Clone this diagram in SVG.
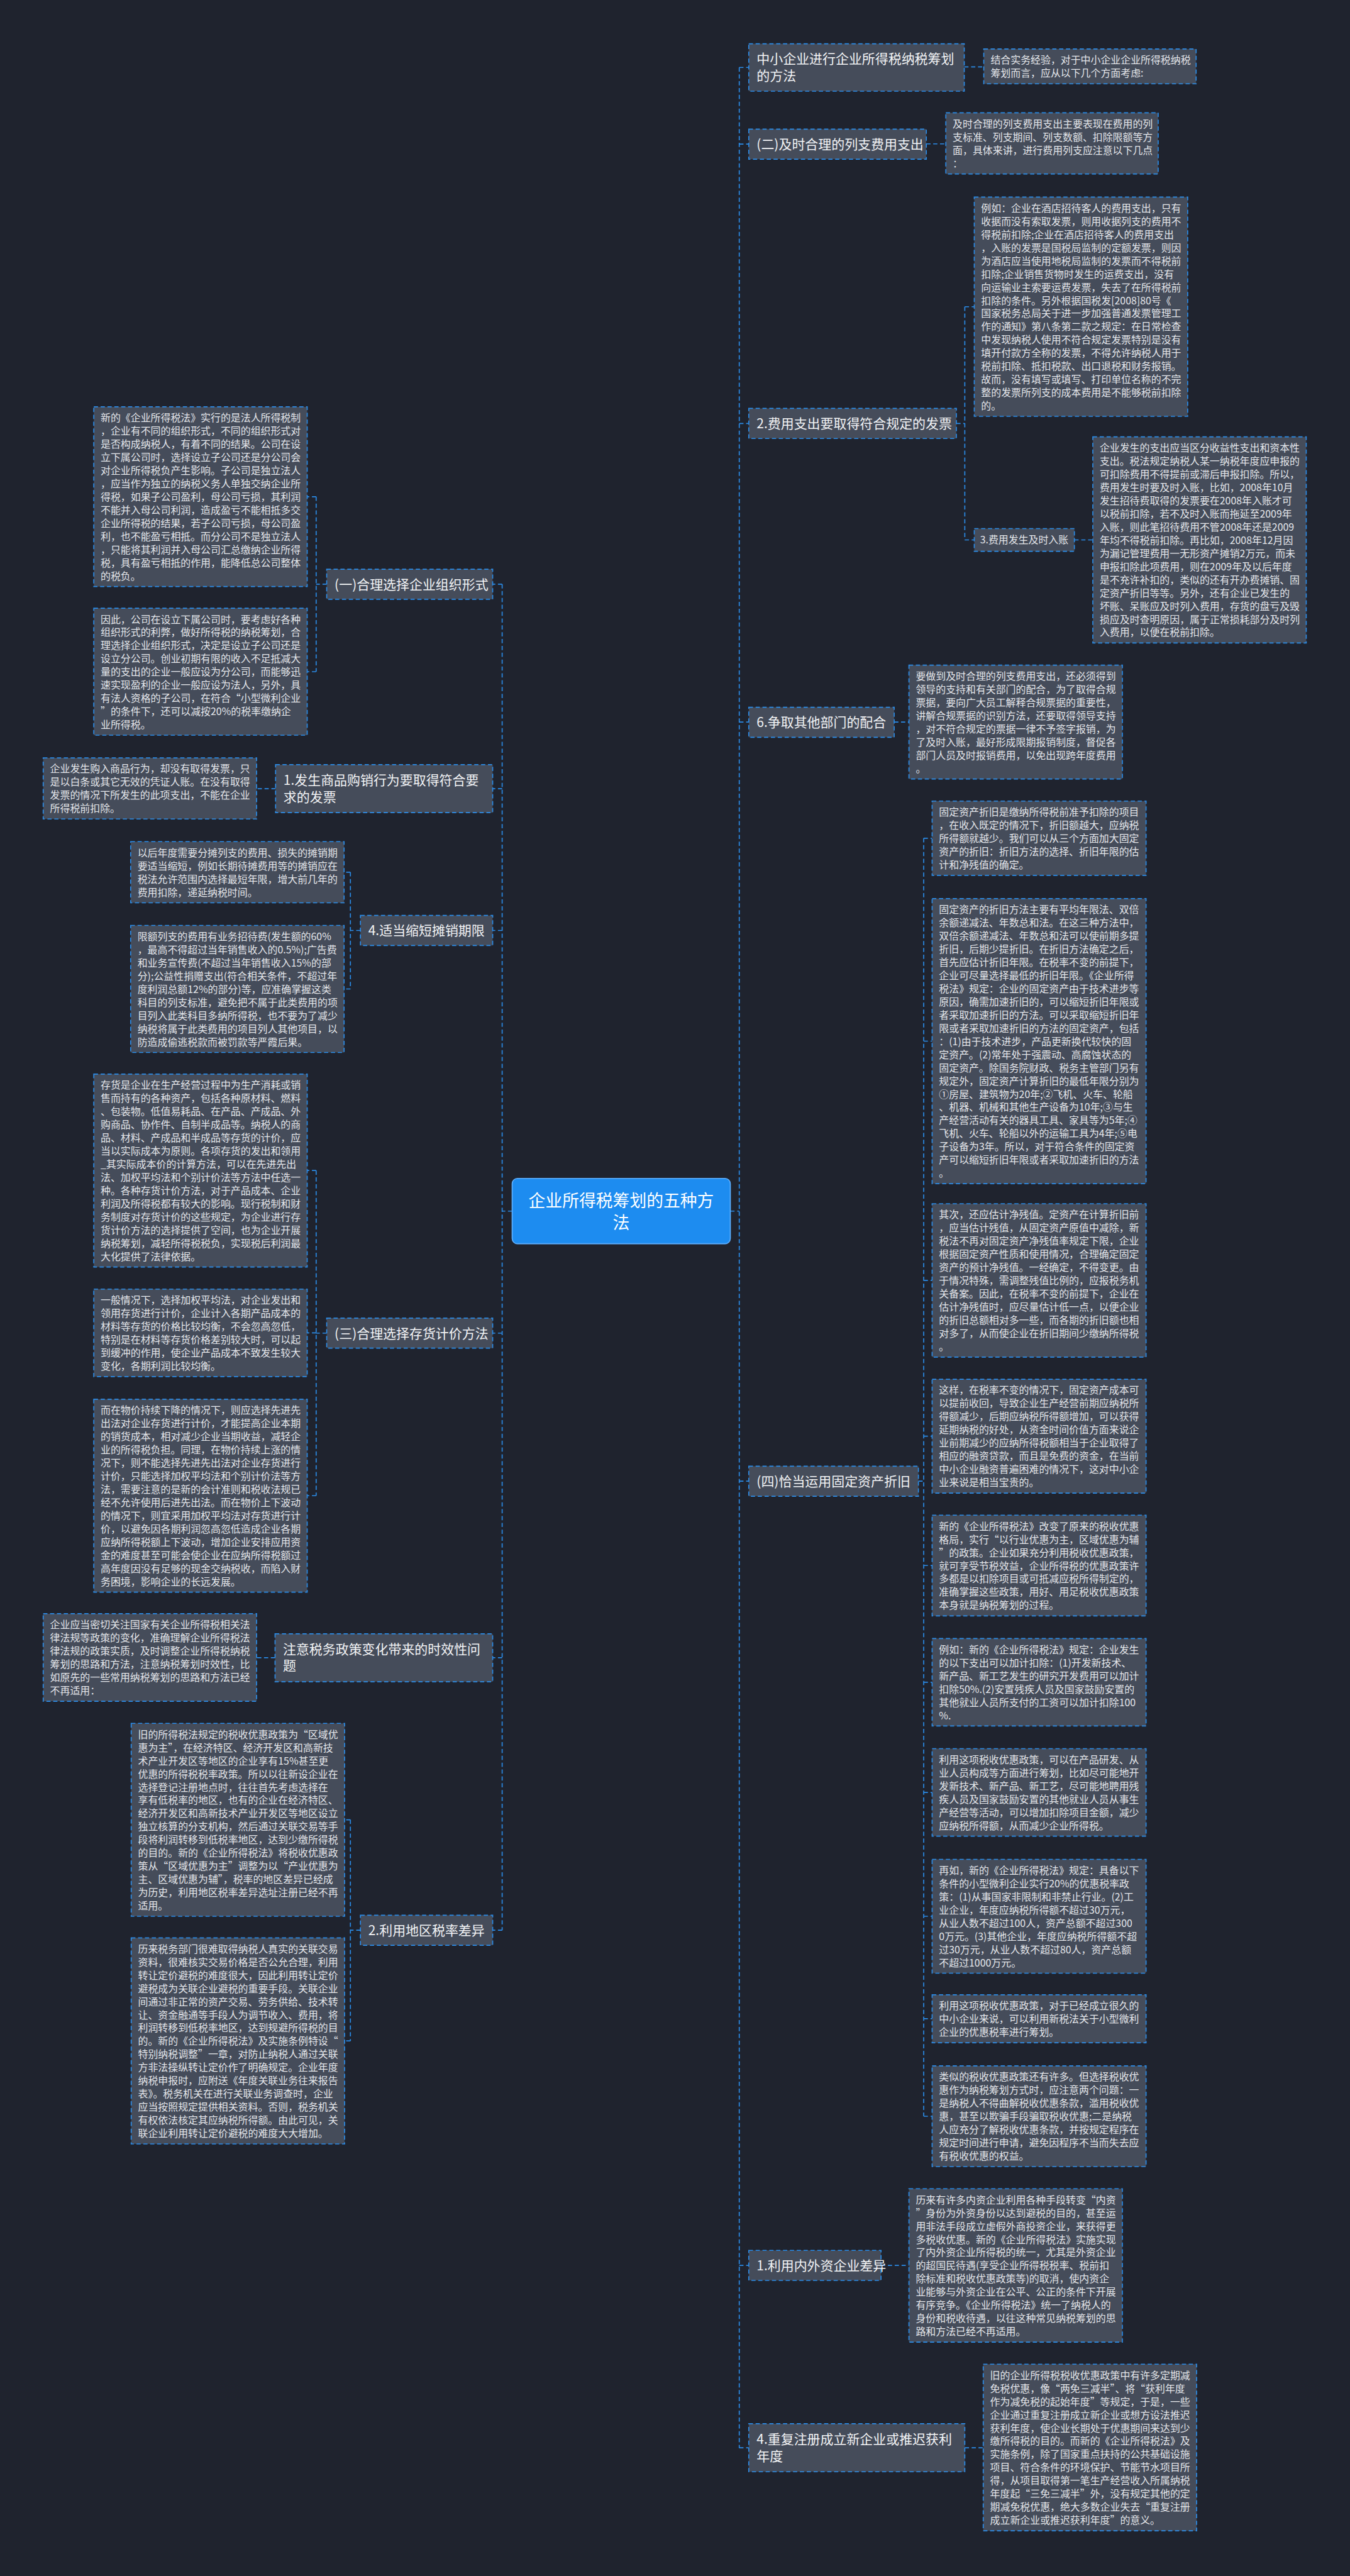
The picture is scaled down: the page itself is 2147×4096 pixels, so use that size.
<svg xmlns="http://www.w3.org/2000/svg" width="2147" height="4096" viewBox="0 0 2147 4096">
<style>
.nb{fill:#454c5a;stroke:#2b8be6;stroke-width:2;stroke-dasharray:8 5}
.t{font-family:"Noto Sans CJK SC","Noto Sans",sans-serif;font-size:19px;fill:#e4e6ea}
.l{font-family:"Noto Sans CJK SC","Noto Sans",sans-serif;font-size:25px;fill:#f2f3f5}
.c{fill:none;stroke:#2b8be6;stroke-width:2;stroke-dasharray:8 5}
.rt{font-family:"Noto Sans CJK SC","Noto Sans",sans-serif;font-size:32px;fill:#ffffff}
</style>
<rect width="2147" height="4096" fill="#1f232e"/>
<g transform="scale(0.838)">
<g id="connectors">
<path class="c" d="M1386 2298H1403M1403 128V4645M1403 128H1421M1403 273.5H1421M1403 803.5H1421M1403 1370H1421M1403 2810.5H1421M1403 4298.5H1421M1403 4644.5H1421"/>
<path class="c" d="M1830 127H1867M1758 273H1795M1815 803.5H1831M1831 582V1024.5M1831 582H1849M1831 1024.5H1849M2039 1024.5H2074M1697 1370H1725"/>
<path class="c" d="M1743 2810.5H1753M1753 1590.5V4015.5M1753 1590.5H1769M1753 1975.5H1769M1753 2429.5H1769M1753 2725H1769M1753 2970.5H1769M1753 3192H1769M1753 3401H1769M1753 3636H1769M1753 3830.5H1769M1753 4015.5H1769"/>
<path class="c" d="M1672 4298.5H1725M1831 4644.5H1866"/>
<path class="c" d="M972 2298H953M953 1108.5V3662.5M953 1108.5H935M953 1496.5H935M953 1765.5H935M953 2529.5H935M953 3145.5H935M953 3662.5H935"/>
<path class="c" d="M620 1108.5H600M600 942.5V1274.5M600 942.5H583M600 1274.5H583M523 1496.5H487M684 1765.5H665M665 1655V1876.5M665 1655H653M665 1876.5H653"/>
<path class="c" d="M620 2529.5H600M600 2221V2838M600 2221H583M600 2529H583M600 2838H583M522 3145.5H487M684 3662.5H665M665 3453V3872.5M665 3453H654M665 3872.5H654"/>
</g>

<g id="root">
<rect x="972" y="2236" width="414" height="124" rx="10" fill="#1d8cf0" stroke="#5fb0ff" stroke-width="2"/>
<text class="rt" text-anchor="middle"><tspan x="1179" y="2290">企业所得税筹划的五种方</tspan><tspan x="1179" dy="42">法</tspan></text>
</g>

<g id="r1">
<rect class="nb" x="1421" y="83" width="409" height="90"/>
<text class="l"><tspan x="1436" y="121">中小企业进行企业所得税纳税筹划</tspan><tspan x="1436" dy="32">的方法</tspan></text>
</g>
<g id="r1a">
<rect class="nb" x="1867" y="93" width="403" height="66"/>
<text class="t"><tspan x="1880" y="121">结合实务经验，对于中小企业企业所得税纳税</tspan><tspan x="1880" dy="25">筹划而言，应从以下几个方面考虑:</tspan></text>
</g>

<g id="r2">
<rect class="nb" x="1421" y="245" width="337" height="57"/>
<text class="l" x="1436" y="283">(二)及时合理的列支费用支出</text>
</g>
<g id="r2a">
<rect class="nb" x="1795" y="214" width="403" height="116"/>
<text class="t"><tspan x="1808" y="242">及时合理的列支费用支出主要表现在费用的列</tspan><tspan x="1808" dy="25">支标准、列支期间、列支数额、扣除限额等方</tspan><tspan x="1808" dy="25">面，具体来讲，进行费用列支应注意以下几点</tspan><tspan x="1808" dy="25">：</tspan></text>
</g>

<g id="r3">
<rect class="nb" x="1421" y="775" width="394" height="57"/>
<text class="l" x="1436" y="813">2.费用支出要取得符合规定的发票</text>
</g>
<g id="r3a">
<rect class="nb" x="1849" y="374" width="405" height="416"/>
<text class="t"><tspan x="1862" y="402">例如：企业在酒店招待客人的费用支出，只有</tspan><tspan x="1862" dy="25">收据而没有索取发票，则用收据列支的费用不</tspan><tspan x="1862" dy="25">得税前扣除;企业在酒店招待客人的费用支出</tspan><tspan x="1862" dy="25">，入账的发票是国税局监制的定额发票，则因</tspan><tspan x="1862" dy="25">为酒店应当使用地税局监制的发票而不得税前</tspan><tspan x="1862" dy="25">扣除;企业销售货物时发生的运费支出，没有</tspan><tspan x="1862" dy="25">向运输业主索要运费发票，失去了在所得税前</tspan><tspan x="1862" dy="25">扣除的条件。另外根据国税发[2008]80号《</tspan><tspan x="1862" dy="25">国家税务总局关于进一步加强普通发票管理工</tspan><tspan x="1862" dy="25">作的通知》第八条第二款之规定：在日常检查</tspan><tspan x="1862" dy="25">中发现纳税人使用不符合规定发票特别是没有</tspan><tspan x="1862" dy="25">填开付款方全称的发票，不得允许纳税人用于</tspan><tspan x="1862" dy="25">税前扣除、抵扣税款、出口退税和财务报销。</tspan><tspan x="1862" dy="25">故而，没有填写或填写、打印单位名称的不完</tspan><tspan x="1862" dy="25">整的发票所列支的成本费用是不能够税前扣除</tspan><tspan x="1862" dy="25">的。</tspan></text>
</g>
<g id="r3b">
<rect class="nb" x="1849" y="1003" width="190" height="43"/>
<text class="t" x="1860" y="1031">3.费用发生及时入账</text>
</g>
<g id="r3c">
<rect class="nb" x="2074" y="829" width="405" height="391"/>
<text class="t"><tspan x="2087" y="857">企业发生的支出应当区分收益性支出和资本性</tspan><tspan x="2087" dy="25">支出。税法规定纳税人某一纳税年度应申报的</tspan><tspan x="2087" dy="25">可扣除费用不得提前或滞后申报扣除。所以，</tspan><tspan x="2087" dy="25">费用发生时要及时入账，比如，2008年10月</tspan><tspan x="2087" dy="25">发生招待费取得的发票要在2008年入账才可</tspan><tspan x="2087" dy="25">以税前扣除，若不及时入账而拖延至2009年</tspan><tspan x="2087" dy="25">入账，则此笔招待费用不管2008年还是2009</tspan><tspan x="2087" dy="25">年均不得税前扣除。再比如，2008年12月因</tspan><tspan x="2087" dy="25">为漏记管理费用一无形资产摊销2万元，而未</tspan><tspan x="2087" dy="25">申报扣除此项费用，则在2009年及以后年度</tspan><tspan x="2087" dy="25">是不充许补扣的，类似的还有开办费摊销、固</tspan><tspan x="2087" dy="25">定资产折旧等等。另外，还有企业已发生的</tspan><tspan x="2087" dy="25">坏账、呆账应及时列入费用，存货的盘亏及毁</tspan><tspan x="2087" dy="25">损应及时查明原因，属于正常损耗部分及时列</tspan><tspan x="2087" dy="25">入费用，以便在税前扣除。</tspan></text>
</g>

<g id="r4">
<rect class="nb" x="1421" y="1342" width="276" height="57"/>
<text class="l" x="1436" y="1380">6.争取其他部门的配合</text>
</g>
<g id="r4a">
<rect class="nb" x="1725" y="1262" width="405" height="216"/>
<text class="t"><tspan x="1738" y="1290">要做到及时合理的列支费用支出，还必须得到</tspan><tspan x="1738" dy="25">领导的支持和有关部门的配合，为了取得合规</tspan><tspan x="1738" dy="25">票据，要向广大员工解释合规票据的重要性，</tspan><tspan x="1738" dy="25">讲解合规票据的识别方法，还要取得领导支持</tspan><tspan x="1738" dy="25">，对不符合规定的票据一律不予签字报销，为</tspan><tspan x="1738" dy="25">了及时入账，最好形成限期报销制度，督促各</tspan><tspan x="1738" dy="25">部门人员及时报销费用，以免出现跨年度费用</tspan><tspan x="1738" dy="25">。</tspan></text>
</g>

<g id="r5">
<rect class="nb" x="1421" y="2782" width="322" height="57"/>
<text class="l" x="1436" y="2820">(四)恰当运用固定资产折旧</text>
</g>
<g id="r5a">
<rect class="nb" x="1769" y="1520" width="406" height="141"/>
<text class="t"><tspan x="1782" y="1548">固定资产折旧是缴纳所得税前准予扣除的项目</tspan><tspan x="1782" dy="25">，在收入既定的情况下，折旧额越大，应纳税</tspan><tspan x="1782" dy="25">所得额就越少。我们可以从三个方面加大固定</tspan><tspan x="1782" dy="25">资产的折旧：折旧方法的选择、折旧年限的估</tspan><tspan x="1782" dy="25">计和净残值的确定。</tspan></text>
</g>
<g id="r5b">
<rect class="nb" x="1769" y="1705" width="406" height="541"/>
<text class="t"><tspan x="1782" y="1733">固定资产的折旧方法主要有平均年限法、双倍</tspan><tspan x="1782" dy="25">余额递减法、年数总和法。在这三种方法中，</tspan><tspan x="1782" dy="25">双倍余额递减法、年数总和法可以使前期多提</tspan><tspan x="1782" dy="25">折旧，后期少提折旧。在折旧方法确定之后，</tspan><tspan x="1782" dy="25">首先应估计折旧年限。在税率不变的前提下，</tspan><tspan x="1782" dy="25">企业可尽量选择最低的折旧年限。《企业所得</tspan><tspan x="1782" dy="25">税法》规定：企业的固定资产由于技术进步等</tspan><tspan x="1782" dy="25">原因，确需加速折旧的，可以缩短折旧年限或</tspan><tspan x="1782" dy="25">者采取加速折旧的方法。可以采取缩短折旧年</tspan><tspan x="1782" dy="25">限或者采取加速折旧的方法的固定资产，包括</tspan><tspan x="1782" dy="25">：(1)由于技术进步，产品更新换代较快的固</tspan><tspan x="1782" dy="25">定资产。(2)常年处于强震动、高腐蚀状态的</tspan><tspan x="1782" dy="25">固定资产。除国务院财政、税务主管部门另有</tspan><tspan x="1782" dy="25">规定外，固定资产计算折旧的最低年限分别为</tspan><tspan x="1782" dy="25">①房屋、建筑物为20年;②飞机、火车、轮船</tspan><tspan x="1782" dy="25">、机器、机械和其他生产设备为10年;③与生</tspan><tspan x="1782" dy="25">产经营活动有关的器具工具、家具等为5年;④</tspan><tspan x="1782" dy="25">飞机、火车、轮船以外的运输工具为4年;⑤电</tspan><tspan x="1782" dy="25">子设备为3年。所以，对于符合条件的固定资</tspan><tspan x="1782" dy="25">产可以缩短折旧年限或者采取加速折旧的方法</tspan><tspan x="1782" dy="25">。</tspan></text>
</g>
<g id="r5c">
<rect class="nb" x="1769" y="2284" width="406" height="291"/>
<text class="t"><tspan x="1782" y="2312">其次，还应估计净残值。定资产在计算折旧前</tspan><tspan x="1782" dy="25">，应当估计残值，从固定资产原值中减除，新</tspan><tspan x="1782" dy="25">税法不再对固定资产净残值率规定下限，企业</tspan><tspan x="1782" dy="25">根据固定资产性质和使用情况，合理确定固定</tspan><tspan x="1782" dy="25">资产的预计净残值。一经确定，不得变更。由</tspan><tspan x="1782" dy="25">于情况特殊，需调整残值比例的，应报税务机</tspan><tspan x="1782" dy="25">关备案。因此，在税率不变的前提下，企业在</tspan><tspan x="1782" dy="25">估计净残值时，应尽量估计低一点，以便企业</tspan><tspan x="1782" dy="25">的折旧总额相对多一些，而各期的折旧额也相</tspan><tspan x="1782" dy="25">对多了，从而使企业在折旧期间少缴纳所得税</tspan><tspan x="1782" dy="25">。</tspan></text>
</g>
<g id="r5d">
<rect class="nb" x="1769" y="2617" width="406" height="216"/>
<text class="t"><tspan x="1782" y="2645">这样，在税率不变的情况下，固定资产成本可</tspan><tspan x="1782" dy="25">以提前收回，导致企业生产经营前期应纳税所</tspan><tspan x="1782" dy="25">得额减少，后期应纳税所得额增加，可以获得</tspan><tspan x="1782" dy="25">延期纳税的好处，从资金时间价值方面来说企</tspan><tspan x="1782" dy="25">业前期减少的应纳所得税额相当于企业取得了</tspan><tspan x="1782" dy="25">相应的融资贷款，而且是免费的资金，在当前</tspan><tspan x="1782" dy="25">中小企业融资普遍困难的情况下，这对中小企</tspan><tspan x="1782" dy="25">业来说是相当宝贵的。</tspan></text>
</g>
<g id="r5e">
<rect class="nb" x="1769" y="2875" width="406" height="191"/>
<text class="t"><tspan x="1782" y="2903">新的《企业所得税法》改变了原来的税收优惠</tspan><tspan x="1782" dy="25">格局，实行“以行业优惠为主，区域优惠为辅</tspan><tspan x="1782" dy="25">”的政策。企业如果充分利用税收优惠政策，</tspan><tspan x="1782" dy="25">就可享受节税效益，企业所得税的优惠政策许</tspan><tspan x="1782" dy="25">多都是以扣除项目或可抵减应税所得制定的，</tspan><tspan x="1782" dy="25">准确掌握这些政策，用好、用足税收优惠政策</tspan><tspan x="1782" dy="25">本身就是纳税筹划的过程。</tspan></text>
</g>
<g id="r5f">
<rect class="nb" x="1769" y="3109" width="406" height="166"/>
<text class="t"><tspan x="1782" y="3137">例如：新的《企业所得税法》规定：企业发生</tspan><tspan x="1782" dy="25">的以下支出可以加计扣除：(1)开发新技术、</tspan><tspan x="1782" dy="25">新产品、新工艺发生的研究开发费用可以加计</tspan><tspan x="1782" dy="25">扣除50%.(2)安置残疾人员及国家鼓励安置的</tspan><tspan x="1782" dy="25">其他就业人员所支付的工资可以加计扣除100</tspan><tspan x="1782" dy="25">%.</tspan></text>
</g>
<g id="r5g">
<rect class="nb" x="1769" y="3318" width="406" height="166"/>
<text class="t"><tspan x="1782" y="3346">利用这项税收优惠政策，可以在产品研发、从</tspan><tspan x="1782" dy="25">业人员构成等方面进行筹划，比如尽可能地开</tspan><tspan x="1782" dy="25">发新技术、新产品、新工艺，尽可能地聘用残</tspan><tspan x="1782" dy="25">疾人员及国家鼓励安置的其他就业人员从事生</tspan><tspan x="1782" dy="25">产经营等活动，可以增加扣除项目金额，减少</tspan><tspan x="1782" dy="25">应纳税所得额，从而减少企业所得税。</tspan></text>
</g>
<g id="r5h">
<rect class="nb" x="1769" y="3528" width="406" height="216"/>
<text class="t"><tspan x="1782" y="3556">再如，新的《企业所得税法》规定：具备以下</tspan><tspan x="1782" dy="25">条件的小型微利企业实行20%的优惠税率政</tspan><tspan x="1782" dy="25">策：(1)从事国家非限制和非禁止行业。(2)工</tspan><tspan x="1782" dy="25">业企业，年度应纳税所得额不超过30万元，</tspan><tspan x="1782" dy="25">从业人数不超过100人，资产总额不超过300</tspan><tspan x="1782" dy="25">0万元。(3)其他企业，年度应纳税所得额不超</tspan><tspan x="1782" dy="25">过30万元，从业人数不超过80人，资产总额</tspan><tspan x="1782" dy="25">不超过1000万元。</tspan></text>
</g>
<g id="r5i">
<rect class="nb" x="1769" y="3785" width="406" height="91"/>
<text class="t"><tspan x="1782" y="3813">利用这项税收优惠政策，对于已经成立很久的</tspan><tspan x="1782" dy="25">中小企业来说，可以利用新税法关于小型微利</tspan><tspan x="1782" dy="25">企业的优惠税率进行筹划。</tspan></text>
</g>
<g id="r5j">
<rect class="nb" x="1769" y="3920" width="406" height="191"/>
<text class="t"><tspan x="1782" y="3948">类似的税收优惠政策还有许多。但选择税收优</tspan><tspan x="1782" dy="25">惠作为纳税筹划方式时，应注意两个问题：一</tspan><tspan x="1782" dy="25">是纳税人不得曲解税收优惠条款，滥用税收优</tspan><tspan x="1782" dy="25">惠，甚至以欺骗手段骗取税收优惠;二是纳税</tspan><tspan x="1782" dy="25">人应充分了解税收优惠条款，并按规定程序在</tspan><tspan x="1782" dy="25">规定时间进行申请，避免因程序不当而失去应</tspan><tspan x="1782" dy="25">有税收优惠的权益。</tspan></text>
</g>

<g id="r6">
<rect class="nb" x="1421" y="4270" width="251" height="57"/>
<text class="l" x="1436" y="4308">1.利用内外资企业差异</text>
</g>
<g id="r6a">
<rect class="nb" x="1725" y="4153" width="405" height="291"/>
<text class="t"><tspan x="1738" y="4181">历来有许多内资企业利用各种手段转变“内资</tspan><tspan x="1738" dy="25">”身份为外资身份以达到避税的目的，甚至运</tspan><tspan x="1738" dy="25">用非法手段成立虚假外商投资企业，来获得更</tspan><tspan x="1738" dy="25">多税收优惠。新的《企业所得税法》实施实现</tspan><tspan x="1738" dy="25">了内外资企业所得税的统一，尤其是外资企业</tspan><tspan x="1738" dy="25">的超国民待遇(享受企业所得税税率、税前扣</tspan><tspan x="1738" dy="25">除标准和税收优惠政策等)的取消，使内资企</tspan><tspan x="1738" dy="25">业能够与外资企业在公平、公正的条件下开展</tspan><tspan x="1738" dy="25">有序竞争。《企业所得税法》统一了纳税人的</tspan><tspan x="1738" dy="25">身份和税收待遇，以往这种常见纳税筹划的思</tspan><tspan x="1738" dy="25">路和方法已经不再适用。</tspan></text>
</g>

<g id="r7">
<rect class="nb" x="1421" y="4599" width="410" height="91"/>
<text class="l"><tspan x="1436" y="4637">4.重复注册成立新企业或推迟获利</tspan><tspan x="1436" dy="32">年度</tspan></text>
</g>
<g id="r7a">
<rect class="nb" x="1866" y="4486" width="405" height="316"/>
<text class="t"><tspan x="1879" y="4514">旧的企业所得税税收优惠政策中有许多定期减</tspan><tspan x="1879" dy="25">免税优惠，像“两免三减半”、将“获利年度</tspan><tspan x="1879" dy="25">作为减免税的起始年度”等规定，于是，一些</tspan><tspan x="1879" dy="25">企业通过重复注册成立新企业或想方设法推迟</tspan><tspan x="1879" dy="25">获利年度，使企业长期处于优惠期间来达到少</tspan><tspan x="1879" dy="25">缴所得税的目的。而新的《企业所得税法》及</tspan><tspan x="1879" dy="25">实施条例，除了国家重点扶持的公共基础设施</tspan><tspan x="1879" dy="25">项目、符合条件的环境保护、节能节水项目所</tspan><tspan x="1879" dy="25">得，从项目取得第一笔生产经营收入所属纳税</tspan><tspan x="1879" dy="25">年度起“三免三减半”外，没有规定其他的定</tspan><tspan x="1879" dy="25">期减免税优惠，绝大多数企业失去“重复注册</tspan><tspan x="1879" dy="25">成立新企业或推迟获利年度”的意义。</tspan></text>
</g>

<g id="l1">
<rect class="nb" x="620" y="1080" width="315" height="57"/>
<text class="l" x="635" y="1118">(一)合理选择企业组织形式</text>
</g>
<g id="l1a">
<rect class="nb" x="178" y="772" width="405" height="341"/>
<text class="t"><tspan x="191" y="800">新的《企业所得税法》实行的是法人所得税制</tspan><tspan x="191" dy="25">，企业有不同的组织形式，不同的组织形式对</tspan><tspan x="191" dy="25">是否构成纳税人，有着不同的结果。公司在设</tspan><tspan x="191" dy="25">立下属公司时，选择设立子公司还是分公司会</tspan><tspan x="191" dy="25">对企业所得税负产生影响。子公司是独立法人</tspan><tspan x="191" dy="25">，应当作为独立的纳税义务人单独交纳企业所</tspan><tspan x="191" dy="25">得税，如果子公司盈利，母公司亏损，其利润</tspan><tspan x="191" dy="25">不能并入母公司利润，造成盈亏不能相抵多交</tspan><tspan x="191" dy="25">企业所得税的结果，若子公司亏损，母公司盈</tspan><tspan x="191" dy="25">利，也不能盈亏相抵。而分公司不是独立法人</tspan><tspan x="191" dy="25">，只能将其利润并入母公司汇总缴纳企业所得</tspan><tspan x="191" dy="25">税，具有盈亏相抵的作用，能降低总公司整体</tspan><tspan x="191" dy="25">的税负。</tspan></text>
</g>
<g id="l1b">
<rect class="nb" x="178" y="1154" width="405" height="241"/>
<text class="t"><tspan x="191" y="1182">因此，公司在设立下属公司时，要考虑好各种</tspan><tspan x="191" dy="25">组织形式的利弊，做好所得税的纳税筹划，合</tspan><tspan x="191" dy="25">理选择企业组织形式，决定是设立子公司还是</tspan><tspan x="191" dy="25">设立分公司。创业初期有限的收入不足抵减大</tspan><tspan x="191" dy="25">量的支出的企业一般应设为分公司，而能够迅</tspan><tspan x="191" dy="25">速实现盈利的企业一般应设为法人，另外，具</tspan><tspan x="191" dy="25">有法人资格的子公司，在符合“小型微利企业</tspan><tspan x="191" dy="25">”的条件下，还可以减按20%的税率缴纳企</tspan><tspan x="191" dy="25">业所得税。</tspan></text>
</g>

<g id="l2">
<rect class="nb" x="523" y="1451" width="412" height="91"/>
<text class="l"><tspan x="538" y="1489">1.发生商品购销行为要取得符合要</tspan><tspan x="538" dy="32">求的发票</tspan></text>
</g>
<g id="l2a">
<rect class="nb" x="82" y="1438" width="405" height="116"/>
<text class="t"><tspan x="95" y="1466">企业发生购入商品行为，却没有取得发票，只</tspan><tspan x="95" dy="25">是以白条或其它无效的凭证人账。在没有取得</tspan><tspan x="95" dy="25">发票的情况下所发生的此项支出，不能在企业</tspan><tspan x="95" dy="25">所得税前扣除。</tspan></text>
</g>

<g id="l3">
<rect class="nb" x="684" y="1737" width="251" height="57"/>
<text class="l" x="699" y="1775">4.适当缩短摊销期限</text>
</g>
<g id="l3a">
<rect class="nb" x="248" y="1597" width="405" height="116"/>
<text class="t"><tspan x="261" y="1625">以后年度需要分摊列支的费用、损失的摊销期</tspan><tspan x="261" dy="25">要适当缩短，例如长期待摊费用等的摊销应在</tspan><tspan x="261" dy="25">税法允许范围内选择最短年限，增大前几年的</tspan><tspan x="261" dy="25">费用扣除，递延纳税时间。</tspan></text>
</g>
<g id="l3b">
<rect class="nb" x="248" y="1756" width="405" height="241"/>
<text class="t"><tspan x="261" y="1784">限额列支的费用有业务招待费(发生额的60%</tspan><tspan x="261" dy="25">，最高不得超过当年销售收入的0.5%);广告费</tspan><tspan x="261" dy="25">和业务宣传费(不超过当年销售收入15%的部</tspan><tspan x="261" dy="25">分);公益性捐赠支出(符合相关条件，不超过年</tspan><tspan x="261" dy="25">度利润总额12%的部分)等，应准确掌握这类</tspan><tspan x="261" dy="25">科目的列支标准，避免把不属于此类费用的项</tspan><tspan x="261" dy="25">目列入此类科目多纳所得税，也不要为了减少</tspan><tspan x="261" dy="25">纳税将属于此类费用的项目列人其他项目，以</tspan><tspan x="261" dy="25">防造成偷逃税款而被罚款等严霞后果。</tspan></text>
</g>

<g id="l4">
<rect class="nb" x="620" y="2501" width="315" height="57"/>
<text class="l" x="635" y="2539">(三)合理选择存货计价方法</text>
</g>
<g id="l4a">
<rect class="nb" x="178" y="2038" width="405" height="366"/>
<text class="t"><tspan x="191" y="2066">存货是企业在生产经营过程中为生产消耗或销</tspan><tspan x="191" dy="25">售而持有的各种资产，包括各种原材料、燃料</tspan><tspan x="191" dy="25">、包装物。低值易耗品、在产品、产成品、外</tspan><tspan x="191" dy="25">购商品、协作件、自制半成品等。纳税人的商</tspan><tspan x="191" dy="25">品、材料、产成品和半成品等存货的计价，应</tspan><tspan x="191" dy="25">当以实际成本为原则。各项存货的发出和领用</tspan><tspan x="191" dy="25">_其实际成本价的计算方法，可以在先进先出</tspan><tspan x="191" dy="25">法、加权平均法和个别计价法等方法中任选一</tspan><tspan x="191" dy="25">种。各种存货计价方法，对于产品成本、企业</tspan><tspan x="191" dy="25">利润及所得税都有较大的影响。现行税制和财</tspan><tspan x="191" dy="25">务制度对存货计价的这些规定，为企业进行存</tspan><tspan x="191" dy="25">货计价方法的选择提供了空间，也为企业开展</tspan><tspan x="191" dy="25">纳税筹划，减轻所得税税负，实现税后利润最</tspan><tspan x="191" dy="25">大化提供了法律依据。</tspan></text>
</g>
<g id="l4b">
<rect class="nb" x="178" y="2446" width="405" height="166"/>
<text class="t"><tspan x="191" y="2474">一般情况下，选择加权平均法，对企业发出和</tspan><tspan x="191" dy="25">领用存货进行计价，企业计入各期产品成本的</tspan><tspan x="191" dy="25">材料等存货的价格比较均衡，不会忽高忽低，</tspan><tspan x="191" dy="25">特别是在材料等存货价格差别较大时，可以起</tspan><tspan x="191" dy="25">到缓冲的作用，使企业产品成本不致发生较大</tspan><tspan x="191" dy="25">变化，各期利润比较均衡。</tspan></text>
</g>
<g id="l4c">
<rect class="nb" x="178" y="2655" width="405" height="366"/>
<text class="t"><tspan x="191" y="2683">而在物价持续下降的情况下，则应选择先进先</tspan><tspan x="191" dy="25">出法对企业存货进行计价，才能提高企业本期</tspan><tspan x="191" dy="25">的销货成本，相对减少企业当期收益，减轻企</tspan><tspan x="191" dy="25">业的所得税负担。同理，在物价持续上涨的情</tspan><tspan x="191" dy="25">况下，则不能选择先进先出法对企业存货进行</tspan><tspan x="191" dy="25">计价，只能选择加权平均法和个别计价法等方</tspan><tspan x="191" dy="25">法，需要注意的是新的会计准则和税收法规已</tspan><tspan x="191" dy="25">经不允许使用后进先出法。而在物价上下波动</tspan><tspan x="191" dy="25">的情况下，则宜采用加权平均法对存货进行计</tspan><tspan x="191" dy="25">价，以避免因各期利润忽高忽低造成企业各期</tspan><tspan x="191" dy="25">应纳所得税额上下波动，增加企业安排应用资</tspan><tspan x="191" dy="25">金的难度甚至可能会使企业在应纳所得税额过</tspan><tspan x="191" dy="25">高年度因没有足够的现金交纳税收，而陷入财</tspan><tspan x="191" dy="25">务困境，影响企业的长远发展。</tspan></text>
</g>

<g id="l5">
<rect class="nb" x="522" y="3100" width="413" height="91"/>
<text class="l"><tspan x="537" y="3138">注意税务政策变化带来的时效性问</tspan><tspan x="537" dy="32">题</tspan></text>
</g>
<g id="l5a">
<rect class="nb" x="82" y="3062" width="405" height="166"/>
<text class="t"><tspan x="95" y="3090">企业应当密切关注国家有关企业所得税相关法</tspan><tspan x="95" dy="25">律法规等政策的变化，准确理解企业所得税法</tspan><tspan x="95" dy="25">律法规的政策实质，及时调整企业所得税纳税</tspan><tspan x="95" dy="25">筹划的思路和方法，注意纳税筹划时效性，比</tspan><tspan x="95" dy="25">如原先的一些常用纳税筹划的思路和方法已经</tspan><tspan x="95" dy="25">不再适用：</tspan></text>
</g>

<g id="l6">
<rect class="nb" x="684" y="3634" width="251" height="57"/>
<text class="l" x="699" y="3672">2.利用地区税率差异</text>
</g>
<g id="l6a">
<rect class="nb" x="249" y="3270" width="405" height="366"/>
<text class="t"><tspan x="262" y="3298">旧的所得税法规定的税收优惠政策为“区域优</tspan><tspan x="262" dy="25">惠为主”，在经济特区、经济开发区和高新技</tspan><tspan x="262" dy="25">术产业开发区等地区的企业享有15%甚至更</tspan><tspan x="262" dy="25">优惠的所得税税率政策。所以以往新设企业在</tspan><tspan x="262" dy="25">选择登记注册地点时，往往首先考虑选择在</tspan><tspan x="262" dy="25">享有低税率的地区，也有的企业在经济特区、</tspan><tspan x="262" dy="25">经济开发区和高新技术产业开发区等地区设立</tspan><tspan x="262" dy="25">独立核算的分支机构，然后通过关联交易等手</tspan><tspan x="262" dy="25">段将利润转移到低税率地区，达到少缴所得税</tspan><tspan x="262" dy="25">的目的。新的《企业所得税法》将税收优惠政</tspan><tspan x="262" dy="25">策从“区域优惠为主”调整为以“产业优惠为</tspan><tspan x="262" dy="25">主、区域优惠为辅”，税率的地区差异已经成</tspan><tspan x="262" dy="25">为历史，利用地区税率差异选址注册已经不再</tspan><tspan x="262" dy="25">适用。</tspan></text>
</g>
<g id="l6b">
<rect class="nb" x="249" y="3677" width="405" height="391"/>
<text class="t"><tspan x="262" y="3705">历来税务部门很难取得纳税人真实的关联交易</tspan><tspan x="262" dy="25">资料，很难核实交易价格是否公允合理，利用</tspan><tspan x="262" dy="25">转让定价避税的难度很大，因此利用转让定价</tspan><tspan x="262" dy="25">避税成为关联企业避税的重要手段。关联企业</tspan><tspan x="262" dy="25">间通过非正常的资产交易、劳务供给、技术转</tspan><tspan x="262" dy="25">让、资金融通等手段人为调节收入、费用，将</tspan><tspan x="262" dy="25">利润转移到低税率地区，达到规避所得税的目</tspan><tspan x="262" dy="25">的。新的《企业所得税法》及实施条例特设“</tspan><tspan x="262" dy="25">特别纳税调整”一章，对防止纳税人通过关联</tspan><tspan x="262" dy="25">方非法操纵转让定价作了明确规定。企业年度</tspan><tspan x="262" dy="25">纳税申报时，应附送《年度关联业务往来报告</tspan><tspan x="262" dy="25">表》。税务机关在进行关联业务调查时，企业</tspan><tspan x="262" dy="25">应当按照规定提供相关资料。否则，税务机关</tspan><tspan x="262" dy="25">有权依法核定其应纳税所得额。由此可见，关</tspan><tspan x="262" dy="25">联企业利用转让定价避税的难度大大增加。</tspan></text>
</g>
</g>
</svg>
